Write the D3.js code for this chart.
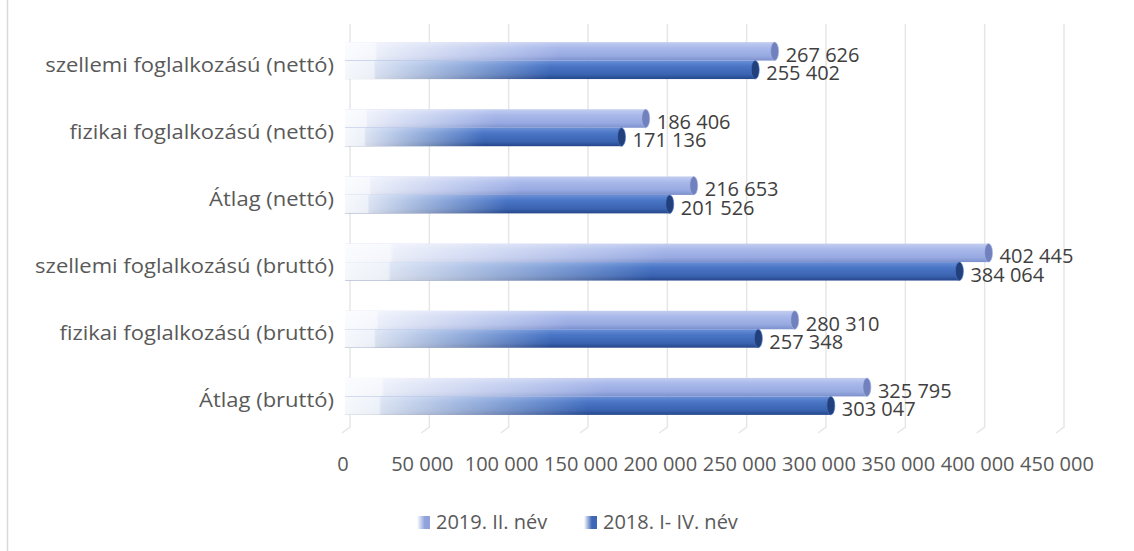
<!DOCTYPE html>
<html>
<head>
<meta charset="utf-8">
<script src="https://cdn.jsdelivr.net/npm/d3@7"></script>
<style>
  body { margin: 0; background: #fff; }
  text { font-family: 'Open Sans', sans-serif; }
</style>
</head>
<body>
<div id="chart"></div>
<script>
const categories = [
    'szellemi foglalkozású (nettó)',
    'fizikai foglalkozású (nettó)',
    'Átlag (nettó)',
    'szellemi foglalkozású (bruttó)',
    'fizikai foglalkozású (bruttó)',
    'Átlag (bruttó)'
];
const seriesNames = ['2019. II. név', '2018. I- IV. név'];
const values2019 = [267626, 186406, 216653, 402445, 280310, 325795];
const values2018 = [255402, 171136, 201526, 384064, 257348, 303047];
const xTicks = [0, 50000, 100000, 150000, 200000, 250000, 300000, 350000, 400000, 450000];

const W = 1134, H = 551;
const huFormat = d3.formatLocale({ decimal: ',', thousands: ' ', grouping: [3], currency: ['', ''] }).format(',d');

const svg = d3.select('#chart').append('svg')
    .attr('width', W)
    .attr('height', H);

const defs = svg.append('defs');

// colour sets for the two series: cylinder shading top -> bottom, end cap
const palettes = [
    { stops: ['#c3cdf0', '#a9b9ea', '#97a9e1', '#7d90cc'], cap: '#7081bd', swatch: '#8fa2dc' },
    { stops: ['#6a8fd6', '#4a76c6', '#3a63b0', '#25468a'], cap: '#22417c', swatch: '#3f67b8' }
];

palettes.forEach(function (p, i) {
    const lg = defs.append('linearGradient')
        .attr('id', 'shade' + i)
        .attr('x1', 0).attr('y1', 0).attr('x2', 0).attr('y2', 1);
    lg.append('stop').attr('offset', 0).attr('stop-color', p.stops[0]);
    lg.append('stop').attr('offset', 0.3).attr('stop-color', p.stops[1]);
    lg.append('stop').attr('offset', 0.75).attr('stop-color', p.stops[2]);
    lg.append('stop').attr('offset', 1).attr('stop-color', p.stops[3]);

    const sw = defs.append('linearGradient')
        .attr('id', 'swatch' + i)
        .attr('x1', 0).attr('y1', 0).attr('x2', 1).attr('y2', 0);
    sw.append('stop').attr('offset', 0).attr('stop-color', '#fff');
    sw.append('stop').attr('offset', 0.6).attr('stop-color', p.swatch);
    sw.append('stop').attr('offset', 1).attr('stop-color', p.swatch);
});

// white fade from the left side of each bar
const fade = defs.append('linearGradient')
    .attr('id', 'fade')
    .attr('x1', 0).attr('y1', 0).attr('x2', 1).attr('y2', 0);
fade.append('stop').attr('offset', 0).attr('stop-color', '#fff').attr('stop-opacity', 0.95);
fade.append('stop').attr('offset', 0.07).attr('stop-color', '#fff').attr('stop-opacity', 0.9);
fade.append('stop').attr('offset', 0.075).attr('stop-color', '#fff').attr('stop-opacity', 0.8);
fade.append('stop').attr('offset', 0.5).attr('stop-color', '#fff').attr('stop-opacity', 0);
fade.append('stop').attr('offset', 1).attr('stop-color', '#fff').attr('stop-opacity', 0);

// left frame line
svg.append('line')
    .attr('x1', 7.5).attr('x2', 7.5)
    .attr('y1', 0).attr('y2', H)
    .attr('stroke', '#d9d9d9')
    .attr('stroke-width', 1.5);

const x = d3.scaleLinear().domain([0, 450000]).range([350, 1064]);
const y = d3.scaleBand().domain(categories).range([27, 430]).paddingInner(0.45).paddingOuter(0.225);
const ySub = d3.scaleBand().domain([0, 1]).range([0, y.bandwidth()]);

const floorY = 427, depthX = 8, depthY = 6;

// gridlines with their 3D floor foot
const grid = svg.append('g').attr('class', 'grid');
xTicks.forEach(function (t) {
    grid.append('path')
        .attr('d', 'M' + x(t) + ',24V' + floorY + 'L' + (x(t) - depthX) + ',' + (floorY + depthY))
        .attr('fill', 'none')
        .attr('stroke', '#e6e6e6')
        .attr('stroke-width', 1.5);
});

// x axis labels
svg.append('g').attr('class', 'x-axis')
    .selectAll('text')
    .data(xTicks)
    .enter()
    .append('text')
    .attr('x', function (d) { return x(d) - 7; })
    .attr('y', 471)
    .attr('text-anchor', 'middle')
    .attr('fill', '#595959')
    .style('font-size', '20px')
    .text(function (d) { return huFormat(d); });

// category labels
svg.append('g').attr('class', 'y-axis')
    .selectAll('text')
    .data(categories)
    .enter()
    .append('text')
    .attr('transform', function (d) { return 'translate(334,' + (y(d) + y.bandwidth() / 2 + 11) + ') scale(1.1,1)'; })
    .attr('text-anchor', 'end')
    .attr('fill', '#595959')
    .style('font-size', '20px')
    .text(function (d) { return d; });

// bars
const seriesValues = [values2019, values2018];
seriesValues.forEach(function (vals, s) {
    const gs = svg.append('g').attr('class', 'series-' + s);
    categories.forEach(function (c, i) {
        const y0 = y(c) + ySub(s);
        const h = ySub.bandwidth();
        const x0 = x(0) - 5;
        const x1 = x(vals[i]);
        gs.append('rect')
            .attr('x', x0).attr('y', y0)
            .attr('width', x1 - x0).attr('height', h)
            .attr('fill', 'url(#shade' + s + ')');
        gs.append('rect')
            .attr('x', x0).attr('y', y0)
            .attr('width', x1 - x0).attr('height', h)
            .attr('fill', 'url(#fade)');
        gs.append('ellipse')
            .attr('cx', x1).attr('cy', y0 + h / 2)
            .attr('rx', 4).attr('ry', h / 2)
            .attr('fill', palettes[s].cap)
            .attr('stroke', palettes[s].stops[1])
            .attr('stroke-width', 0.6);
        gs.append('text')
            .attr('x', x1 + 11)
            .attr('y', y0 + h / 2 + 10.5)
            .attr('fill', '#404040')
            .style('font-size', '20px')
            .text(huFormat(vals[i]));
    });
});

// legend
const legendItems = [
    { name: seriesNames[0], x: 417 },
    { name: seriesNames[1], x: 584 }
];
const legend = svg.append('g').attr('class', 'legend');
legendItems.forEach(function (d, i) {
    legend.append('rect')
        .attr('x', d.x).attr('y', 516)
        .attr('width', 13).attr('height', 13)
        .attr('fill', 'url(#swatch' + i + ')');
    legend.append('text')
        .attr('x', d.x + 19)
        .attr('y', 529)
        .attr('fill', '#595959')
        .style('font-size', '20px')
        .text(d.name);
});
</script>
</body>
</html>
